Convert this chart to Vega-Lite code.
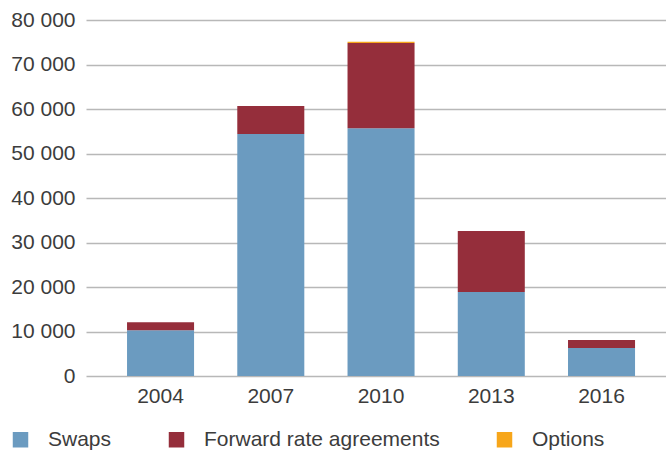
{
  "$schema": "https://vega.github.io/schema/vega-lite/v6.json",
  "width": 580,
  "height": 356,
  "autosize": {"type": "none"},
  "padding": {"left": 86, "top": 20, "right": 0, "bottom": 77},
  "background": "white",
  "config": {
    "locale": {"number": {"decimal": ",", "thousands": " ", "grouping": [3], "currency": ["", ""]}},
    "view": {"stroke": null},
    "font": "Liberation Sans",
    "axis": {"labelFont": "Liberation Sans", "labelColor": "#3c3c3c", "labelFontSize": 21}
  },
  "data": {
    "values": [
      {"year": "2004", "type": "Swaps", "value": 10300},
      {"year": "2004", "type": "Forward rate agreements", "value": 1800},
      {"year": "2004", "type": "Options", "value": 0},
      {"year": "2007", "type": "Swaps", "value": 54400},
      {"year": "2007", "type": "Forward rate agreements", "value": 6300},
      {"year": "2007", "type": "Options", "value": 0},
      {"year": "2010", "type": "Swaps", "value": 55700},
      {"year": "2010", "type": "Forward rate agreements", "value": 19150},
      {"year": "2010", "type": "Options", "value": 250},
      {"year": "2013", "type": "Swaps", "value": 18900},
      {"year": "2013", "type": "Forward rate agreements", "value": 13700},
      {"year": "2013", "type": "Options", "value": 0},
      {"year": "2016", "type": "Swaps", "value": 6300},
      {"year": "2016", "type": "Forward rate agreements", "value": 1800},
      {"year": "2016", "type": "Options", "value": 0}
    ]
  },
  "transform": [
    {"calculate": "indexof(['Swaps', 'Forward rate agreements', 'Options'], datum.type)", "as": "stackOrder"}
  ],
  "mark": {"type": "bar"},
  "encoding": {
    "x": {
      "field": "year",
      "type": "nominal",
      "scale": {"paddingInner": 0.392, "paddingOuter": 0.3265, "align": 0.57},
      "axis": {"title": null, "labelAngle": 0, "ticks": false, "domain": false, "labelPadding": 9, "labelBaseline": "top"}
    },
    "y": {
      "field": "value",
      "type": "quantitative",
      "stack": "zero",
      "scale": {"domain": [0, 80000], "nice": false},
      "axis": {
        "title": null,
        "values": [0, 10000, 20000, 30000, 40000, 50000, 60000, 70000, 80000],
        "format": ",d",
        "ticks": false,
        "domain": false,
        "labelPadding": 11,
        "gridColor": "#b8b8b8",
        "gridWidth": 1.5
      }
    },
    "color": {
      "field": "type",
      "type": "nominal",
      "sort": ["Swaps", "Forward rate agreements", "Options"],
      "scale": {"domain": ["Swaps", "Forward rate agreements", "Options"], "range": ["#6b9bc0", "#952e3b", "#f7a61a"]},
      "legend": {
        "title": null,
        "orient": "none",
        "direction": "horizontal",
        "legendX": -76,
        "legendY": 409,
        "symbolType": "square",
        "symbolSize": 240,
        "symbolStrokeWidth": 0,
        "symbolOpacity": 1,
        "labelFont": "Liberation Sans",
        "labelFontSize": 21,
        "labelColor": "#3c3c3c",
        "labelOffset": 17,
        "columnPadding": 54,
        "labelLimit": 400
      }
    },
    "order": {"field": "stackOrder", "type": "quantitative", "sort": "ascending"}
  }
}
